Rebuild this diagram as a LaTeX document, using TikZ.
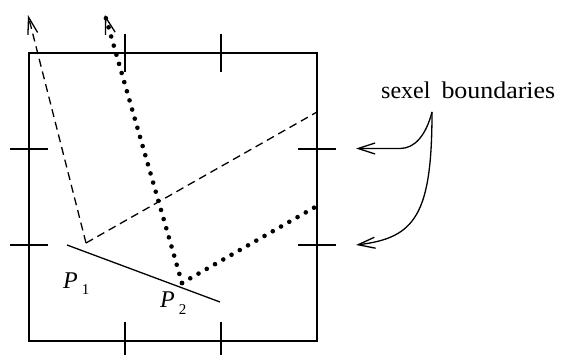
\documentclass[tikz,border=0pt]{standalone}
\usepackage{fontspec}
\setmainfont{Liberation Serif}
\usetikzlibrary{arrows.meta}
\tikzset{
  frame/.style={line width=1.4pt},
  tick/.style={line width=1.4pt},
  surf/.style={line width=1.3pt},
  dashray/.style={line width=1.3pt, dash pattern=on 8pt off 5pt},
  dotray/.style={line width=4.6pt, line cap=round, dash pattern=on 0pt off 9.5pt},
  barb/.style={-{Straight Barb[length=17pt,width=10pt,line width=1.3pt]}},
  lbl/.style={inner sep=0pt, anchor=base west, font=\fontsize{24}{24}\selectfont},
  callout/.style={line width=1.3pt, -{Straight Barb[length=17pt,width=11pt,line width=1.3pt]}}
}
\newcommand{\subnum}[1]{\hspace{4pt}\raisebox{-6pt}{\fontsize{15}{15}\selectfont #1}}
\begin{document}
\begin{tikzpicture}[x=1pt,y=-1pt]
\useasboundingbox (0,0) rectangle (562,355);
% frame corners
\coordinate (tl) at (29,53);
\coordinate (tr) at (317,53);
\coordinate (br) at (317,341);
\coordinate (bl) at (29,341);
\draw[frame] (tl) -- (tr) -- (br) -- (bl) -- cycle;
% ticks
\coordinate (t1a) at (125,34); \coordinate (t1b) at (125,72);
\coordinate (t2a) at (221,34); \coordinate (t2b) at (221,72);
\coordinate (b1a) at (125,322); \coordinate (b1b) at (125,360);
\coordinate (b2a) at (221,322); \coordinate (b2b) at (221,360);
\coordinate (l1a) at (10,149); \coordinate (l1b) at (48,149);
\coordinate (l2a) at (10,245); \coordinate (l2b) at (48,245);
\coordinate (r1a) at (298,149); \coordinate (r1b) at (336,149);
\coordinate (r2a) at (298,245); \coordinate (r2b) at (336,245);
\foreach \a/\b in {t1a/t1b,t2a/t2b,b1a/b1b,b2a/b2b,l1a/l1b,l2a/l2b,r1a/r1b,r2a/r2b}
  \draw[tick] (\a) -- (\b);
% surface segment
\coordinate (s1) at (67,245);
\coordinate (s2) at (220,302);
\draw[surf] (s1) -- (s2);
% points
\coordinate (p1) at (86,243);
\coordinate (p2) at (182,283);
% dashed rays
\coordinate (d1) at (28,15);
\coordinate (d2) at (317,112);
\draw[dashray, barb] (p1) -- (d1);
\draw[dashray] (p1) -- (d2);
% dotted rays
\coordinate (e1) at (105,15);
\coordinate (e2) at (317,206);
\draw[dotray, barb] (p2) -- (e1);
\draw[dotray] (p2) -- (e2);
% labels
\node[lbl] (P1) at (63,288) {\textit{P}\subnum{1}};
\node[lbl] (P2) at (160,308) {\textit{P}\subnum{2}};
\node[inner sep=0pt, anchor=base west, font=\fontsize{24}{24}\selectfont] (txt) at (381,98.5) {sexel\hspace{11pt}\scalebox{1.08}[1]{boundaries}};
% callout arrows
\coordinate (c0) at (432,112);
\coordinate (cb1) at (400,148.5);
\coordinate (ca1) at (356,148.5);
\coordinate (ca2) at (356,245);
\draw[callout] (c0) .. controls (426,135) and (415,148.5) .. (cb1) -- (ca1);
\draw[callout] (c0) .. controls (432,215) and (415,238) .. (ca2);
\end{tikzpicture}
\end{document}
